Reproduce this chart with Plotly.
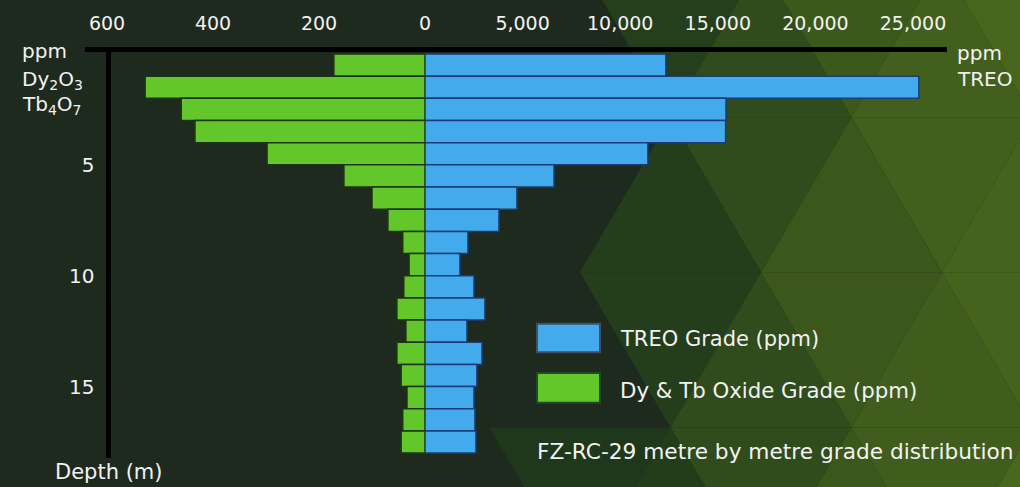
import plotly.graph_objects as go

# ---------------- data ----------------
depth_m = list(range(1, 19))  # bottom of each 1 m interval
treo_ppm = [12340, 25300, 15420, 15400, 11420, 6610, 4710, 3790, 2200, 1790,
            2510, 3070, 2150, 2920, 2660, 2510, 2560, 2610]
dytb_ppm = [172, 528, 460, 434, 298, 153, 100, 70, 42, 30,
            40, 53, 36, 53, 45, 34, 42, 45]
green_ticks = [0, 200, 400, 600]
treo_ticks = [5000, 10000, 15000, 20000, 25000]
depth_ticks = [5, 10, 15]

# ---------------- geometry helpers ----------------
W, H = 1020, 487
ML, MR, MT, MB = 85, 73, 47, 29
PW, PH = W - ML - MR, H - MT - MB


def px(x):
    return (x - ML) / PW


def py(y):
    return (H - MB - y) / PH


ZERO = 425
split = px(ZERO)

FONT = "DejaVu Sans"
WHITE = "#f2f2f2"
BLUE = "#43abec"
GREEN = "#63c62a"

fig = go.Figure()
fig.add_trace(go.Bar(
    x=dytb_ppm, y=depth_m, orientation="h", xaxis="x", yaxis="y",
    width=1, offset=-1, marker=dict(color=GREEN, line=dict(color="#1d3512", width=1.5)),
    name="Dy & Tb Oxide Grade (ppm)", showlegend=False, hoverinfo="x+y"))
fig.add_trace(go.Bar(
    x=treo_ppm, y=depth_m, orientation="h", xaxis="x2", yaxis="y",
    width=1, offset=-1, marker=dict(color=BLUE, line=dict(color="#1b3c78", width=1.5)),
    name="TREO Grade (ppm)", showlegend=False, hoverinfo="x+y"))

# ---------------- background triangles (decoration) ----------------
def hexc(c):
    return tuple(int(c[i:i + 2], 16) for i in (1, 3, 5))


def lerp(c1, c2, t):
    a, b = hexc(c1), hexc(c2)
    return "rgb(%d,%d,%d)" % tuple(round(a[i] + (b[i] - a[i]) * t) for i in range(3))


shapes = []
S, HT = 181.0, 157.0
rows_y = [-44 + HT * j for j in range(5)]
var = [0.0, 0.08, -0.05, 0.04, -0.08, 0.06]
for j in range(4):
    yt, yb = rows_y[j], rows_y[j + 1]
    at = 580 if j % 2 == 0 else 670.5
    ab = 670.5 if j % 2 == 0 else 580
    for k in range(-4, 5):
        xs = at + S * k
        tris = [([(xs, yt), (xs + S, yt), (xs + S / 2, yb)]),
                ([(ab + S * k, yb), (ab + S * k + S, yb), (ab + S * k + S / 2, yt)])]
        for n, tri in enumerate(tris):
            cx = sum(p[0] for p in tri) / 3
            cy = sum(p[1] for p in tri) / 3
            if cx < 600 and not (cy > 380 and cx > 560):
                continue
            t = (cx - 610) / 380
            t = max(0.0, min(1.0, t)) ** 1.1
            t = max(0.0, min(1.0, t + var[(k + j + n) % 6] * (0.3 + t)))
            col = lerp("#1f381b", "#4a681d", t)
            path = "M %f %f L %f %f L %f %f Z" % (
                px(tri[0][0]), py(tri[0][1]), px(tri[1][0]), py(tri[1][1]),
                px(tri[2][0]), py(tri[2][1]))
            shapes.append(dict(type="path", path=path, xref="paper", yref="paper",
                               fillcolor=col, line=dict(width=0), layer="below"))

# legend swatches
shapes.append(dict(type="rect", xref="paper", yref="paper", x0=px(537), x1=px(600),
                   y0=py(351), y1=py(322), fillcolor=BLUE,
                   line=dict(color="#3f4f68", width=2)))
shapes.append(dict(type="rect", xref="paper", yref="paper", x0=px(537), x1=px(600),
                   y0=py(402), y1=py(372), fillcolor=GREEN,
                   line=dict(color="#1f4a2a", width=2)))

# ---------------- annotations ----------------
ann = []


def text(s, x, y, size=20, xanchor="left"):
    ann.append(dict(text=s, x=px(x), y=py(y), xref="paper", yref="paper",
                    xanchor=xanchor, yanchor="middle", showarrow=False,
                    font=dict(family=FONT, size=size, color=WHITE)))


text("ppm", 20, 46)
text("Dy<sub>2</sub>O<sub>3</sub>", 20, 75)
text("Tb<sub>4</sub>O<sub>7</sub>", 20, 101)
text("ppm", 955, 48)
text("TREO", 955, 74)
text("Depth (m)", 53, 472, 21)
text("TREO Grade (ppm)", 618, 338, 21)
text("Dy &amp; Tb Oxide Grade (ppm)", 618, 390, 21.3)
text("FZ-RC-29 metre by metre grade distribution", 1016, 451, 21.7, "right")

axis_common = dict(side="top", showline=True, linecolor="black", linewidth=5,
                   showgrid=False, zeroline=False, ticks="outside", ticklen=9,
                   tickcolor="rgba(0,0,0,0)",
                   tickfont=dict(family=FONT, size=19, color=WHITE), anchor="y")

fig.update_layout(
    width=W, height=H,
    margin=dict(l=ML, r=MR, t=MT, b=MB, pad=0),
    paper_bgcolor="#1e2a1e", plot_bgcolor="rgba(0,0,0,0)",
    barmode="overlay",
    xaxis=dict(domain=[0, split], range=[641.5, 0], tickvals=green_ticks, **axis_common),
    xaxis2=dict(domain=[split, 1], range=[0, 26742], tickvals=treo_ticks,
                tickformat=",", **axis_common),
    yaxis=dict(range=[18.22, -0.09], tickvals=depth_ticks, anchor="free",
               position=px(107.5), showline=True, linecolor="black", linewidth=5,
               showgrid=False, zeroline=False, ticks="outside", ticklen=7,
               tickcolor="rgba(0,0,0,0)",
               tickfont=dict(family=FONT, size=20, color=WHITE)),
    shapes=shapes, annotations=ann, showlegend=False,
)

fig.write_html("out.html", config={"displayModeBar": False},
               post_script="document.body.style.margin='0';document.body.style.overflow='hidden';")
